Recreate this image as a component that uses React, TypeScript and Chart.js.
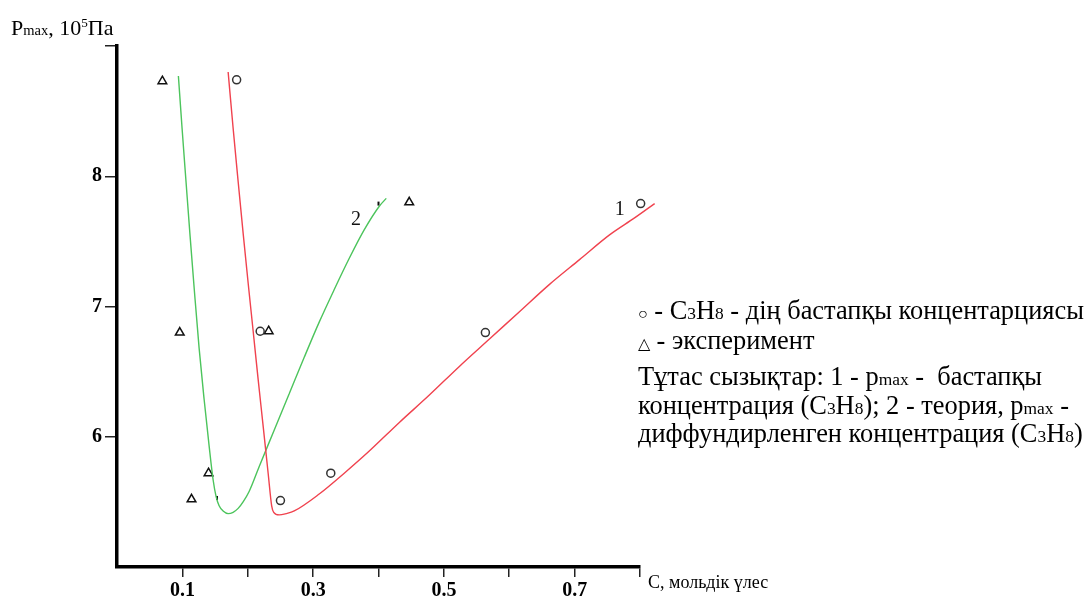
import React, { useEffect, useRef } from "react";
import { Chart, registerables } from "chart.js";

Chart.register(...registerables);

// Curve 1 (red): p_max vs initial concentration
const curve1X = [0.170, 0.1776, 0.1853, 0.193, 0.2006, 0.2083, 0.2159, 0.2236, 0.2312, 0.2366, 0.2397, 0.2481, 0.2588, 0.2711, 0.3093, 0.3476, 0.3859, 0.4319, 0.4778, 0.5237, 0.5697, 0.6156, 0.6616, 0.7075, 0.7534, 0.7917, 0.8224];
const curve1Y = [8.80, 8.37, 7.96, 7.56, 7.18, 6.81, 6.44, 6.08, 5.72, 5.47, 5.42, 5.40, 5.41, 5.43, 5.56, 5.72, 5.89, 6.11, 6.32, 6.54, 6.75, 6.96, 7.17, 7.36, 7.55, 7.68, 7.79];

// Curve 2 (green): theory, diffused concentration
const curve2X = [0.0939, 0.0995, 0.1057, 0.1118, 0.1179, 0.1256, 0.1332, 0.1409, 0.147, 0.1516, 0.1562, 0.1623, 0.170, 0.1776, 0.1853, 0.1929, 0.2021, 0.2174, 0.2404, 0.2634, 0.2864, 0.3093, 0.3323, 0.3553, 0.3783, 0.4012, 0.4119];
const curve2Y = [8.77, 8.37, 7.95, 7.54, 7.15, 6.68, 6.29, 5.93, 5.67, 5.54, 5.47, 5.43, 5.41, 5.42, 5.45, 5.50, 5.58, 5.77, 6.05, 6.33, 6.61, 6.88, 7.13, 7.37, 7.59, 7.77, 7.83];

// Circles: initial concentration of C3H8
const circlesX = [0.183, 0.219, 0.250, 0.327, 0.5635, 0.801];
const circlesY = [8.74, 6.81, 5.51, 5.72, 6.80, 7.79];

// Triangles: experiment
const trianglesX = [0.0694, 0.096, 0.114, 0.140, 0.232, 0.447];
const trianglesY = [8.73, 6.80, 5.52, 5.72, 6.81, 7.80];

// Small marks on curve 2
const marksX = [0.153, 0.400];
const marksY = [5.53, 7.79];

// Axis ticks
const xTickValues = [0.1, 0.2, 0.3, 0.4, 0.5, 0.6, 0.7, 0.8];
const xTickLabels = ["0.1", "", "0.3", "", "0.5", "", "0.7", ""];
const yTickValues = [6, 7, 8, 9];
const yTickLabels = ["6", "7", "8", ""];

// Curve number labels
const curveLabelText = ["1", "2"];
const curveLabelX = [0.769, 0.3655];
const curveLabelY = [7.74, 7.668];

const zip = (xs: number[], ys: number[]) => xs.map((x, i) => ({ x, y: ys[i] }));

const SERIF = '"Liberation Serif", "Times New Roman", serif';

const curveLabelPlugin = {
  id: "curveLabels",
  afterDatasetsDraw(chart: any) {
    const { ctx, scales } = chart;
    ctx.save();
    ctx.font = `20px ${SERIF}`;
    ctx.fillStyle = "#111";
    ctx.textAlign = "center";
    ctx.textBaseline = "middle";
    curveLabelText.forEach((t, i) => {
      ctx.fillText(t, scales.x.getPixelForValue(curveLabelX[i]), scales.y.getPixelForValue(curveLabelY[i]));
    });
    ctx.restore();
  },
};

const Small = ({ children }: { children: React.ReactNode }) => (
  <span style={{ fontSize: "0.66em" }}>{children}</span>
);

export default function App() {
  const ref = useRef<HTMLCanvasElement | null>(null);

  useEffect(() => {
    document.body.style.margin = "0";
    const canvas = ref.current;
    if (!canvas) return;
    const chart = new Chart(canvas, {
      type: "scatter",
      data: {
        datasets: [
          {
            label: "1",
            type: "line",
            data: zip(curve1X, curve1Y),
            borderColor: "#f0424e",
            borderWidth: 1.4,
            pointRadius: 0,
            cubicInterpolationMode: "monotone",
            fill: false,
            clip: false,
          } as any,
          {
            label: "2",
            type: "line",
            data: zip(curve2X, curve2Y),
            borderColor: "#4cc45c",
            borderWidth: 1.4,
            pointRadius: 0,
            cubicInterpolationMode: "monotone",
            fill: false,
            clip: false,
          } as any,
          {
            label: "circles",
            data: zip(circlesX, circlesY),
            pointStyle: "circle",
            pointRadius: 4,
            borderColor: "#333",
            backgroundColor: "rgba(255,255,255,0)",
            borderWidth: 1.5,
            clip: false,
          } as any,
          {
            label: "triangles",
            data: zip(trianglesX, trianglesY),
            pointStyle: "triangle",
            pointRadius: 5,
            borderColor: "#111",
            backgroundColor: "rgba(255,255,255,0)",
            borderWidth: 1.5,
            clip: false,
          } as any,
          {
            label: "marks",
            data: zip(marksX, marksY),
            pointStyle: "line",
            rotation: 90,
            pointRadius: 2,
            borderColor: "#111",
            borderWidth: 2,
            clip: false,
          } as any,
        ],
      },
      options: {
        responsive: false,
        maintainAspectRatio: false,
        animation: false,
        layout: { padding: { left: 57, right: 451, top: 46, bottom: 0 } },
        plugins: { legend: { display: false }, tooltip: { enabled: false } },
        scales: {
          x: {
            type: "linear",
            min: 0,
            max: 0.8,
            afterBuildTicks: (s: any) => {
              s.ticks = xTickValues.map((v) => ({ value: v }));
            },
            afterFit: (s: any) => {
              s.height = 31;
            },
            grid: { drawOnChartArea: false, drawTicks: true, tickLength: 10, color: "#222", lineWidth: 1.5 },
            border: { display: true, color: "#000", width: 3.5 },
            ticks: {
              autoSkip: false,
              maxRotation: 0,
              padding: 2,
              color: "#000",
              font: { family: SERIF, size: 20, weight: "bold" },
              callback: (_v: any, i: number) => xTickLabels[i],
            },
          },
          y: {
            type: "linear",
            min: 5,
            max: 9,
            afterBuildTicks: (s: any) => {
              s.ticks = yTickValues.map((v) => ({ value: v }));
            },
            afterFit: (s: any) => {
              s.width = 60;
            },
            grid: { drawOnChartArea: false, drawTicks: true, tickLength: 12, color: "#222", lineWidth: 1.5 },
            border: { display: true, color: "#000", width: 3.5 },
            ticks: {
              autoSkip: false,
              padding: 3,
              color: "#000",
              font: { family: SERIF, size: 20, weight: "bold" },
              callback: (_v: any, i: number) => yTickLabels[i],
            },
          },
        },
      } as any,
      plugins: [curveLabelPlugin],
    });
    return () => chart.destroy();
  }, []);

  const textBase: React.CSSProperties = {
    position: "absolute",
    fontFamily: SERIF,
    color: "#000",
    whiteSpace: "pre",
  };
  const legend: React.CSSProperties = { ...textBase, fontSize: 26.4, lineHeight: "29px", left: 638 };

  return (
    <div style={{ position: "relative", width: 1091, height: 598, overflow: "hidden", background: "#fff" }}>
      <canvas ref={ref} width={1091} height={598} style={{ position: "absolute", left: 0, top: 0 }} />
      <div style={{ ...textBase, fontSize: 22, lineHeight: "26px", left: 11, top: 10 }}>
        P<Small>max</Small>, 10<sup style={{ fontSize: "0.6em" }}>5</sup>Па
      </div>
      <div style={{ ...textBase, fontSize: 18, lineHeight: "22px", left: 648, top: 571 }}>C, мольдік үлес</div>
      <div style={{ ...legend, top: 296 }}>
        <span style={{ fontSize: 16 }}>○</span> - C<Small>3</Small>H<Small>8</Small> - дің бастапқы концентарциясы
      </div>
      <div style={{ ...legend, top: 326 }}>
        <span style={{ fontSize: 16 }}>△</span> - эксперимент
      </div>
      <div style={{ ...legend, top: 362 }}>
        Тұтас сызықтар: 1 - p<Small>max</Small> -  бастапқы
      </div>
      <div style={{ ...legend, top: 391 }}>
        концентрация (C<Small>3</Small>H<Small>8</Small>); 2 - теория, p<Small>max</Small> -
      </div>
      <div style={{ ...legend, top: 419 }}>
        диффундирленген концентрация (C<Small>3</Small>H<Small>8</Small>)
      </div>
    </div>
  );
}
